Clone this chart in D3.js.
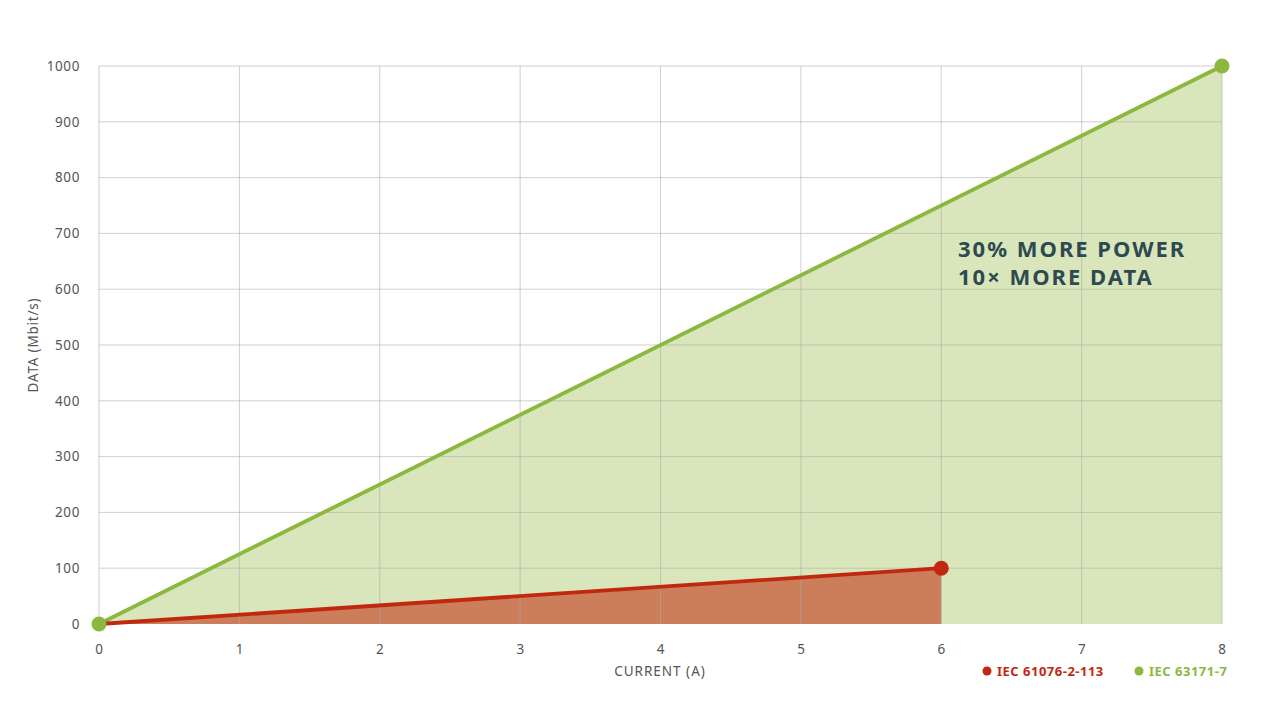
<!DOCTYPE html>
<html><head><meta charset="utf-8">
<script src="https://cdn.jsdelivr.net/npm/d3@7"></script>
<style>body{margin:0;background:#fff;}svg{display:block;font-family:"Noto Sans","Open Sans",sans-serif;}</style>
</head><body><svg id="c" width="1280" height="722"></svg>
<script>
const xTicks = [0,1,2,3,4,5,6,7,8];
const yTicks = [0,100,200,300,400,500,600,700,800,900,1000];
const greenSeries = {name:"IEC 63171-7", current:[0,8], data:[0,1000]};
const redSeries = {name:"IEC 61076-2-113", current:[0,6], data:[0,100]};
const annotationLines = ["30% MORE POWER","10× MORE DATA"];
const xTitle = "CURRENT (A)";
const yTitle = "DATA (Mbit/s)";

const svg = d3.select("#c");
const m = {l:99, r:1222, t:66, b:624};
const x = d3.scaleLinear().domain([0,8]).range([m.l,m.r]);
const y = d3.scaleLinear().domain([0,1000]).range([m.b,m.t]);

const GREEN="#8cb83f", GREENFILL="#d9e6bb", RED="#c0290f", REDFILL="#cc7e5a";
const FONT="'Noto Sans',sans-serif";

function pts(s){return s.current.map((c,i)=>[c,s.data[i]]);}
const area = d3.area().x(d=>x(d[0])).y0(y(0)).y1(d=>y(d[1]));
const line = d3.line().x(d=>x(d[0])).y(d=>y(d[1]));

svg.append("path").datum(pts(greenSeries)).attr("d",area).attr("fill",GREENFILL);
svg.append("path").datum(pts(redSeries)).attr("d",area).attr("fill",REDFILL);

const g = svg.append("g");
g.selectAll("line.h").data(yTicks.filter(d=>d>0)).join("line")
 .attr("x1",x(0)).attr("x2",x(8)).attr("y1",d=>y(d)).attr("y2",d=>y(d))
 .attr("stroke","#a9a9a9").attr("stroke-opacity",0.55).attr("stroke-width",1);
g.selectAll("line.v").data(xTicks).join("line")
 .attr("x1",d=>x(d)).attr("x2",d=>x(d)).attr("y1",y(0)).attr("y2",y(1000))
 .attr("stroke","#a9a9a9").attr("stroke-opacity",0.55).attr("stroke-width",1);

const xa = svg.append("g").attr("transform",`translate(0,${y(0)})`)
 .call(d3.axisBottom(x).tickValues(xTicks).tickSize(0).tickPadding(20).tickFormat(d3.format("d")));
const ya = svg.append("g").attr("transform",`translate(${x(0)},0)`)
 .call(d3.axisLeft(y).tickValues(yTicks).tickSize(0).tickPadding(19).tickFormat(d3.format("d")));
[xa,ya].forEach(a=>{a.select(".domain").remove();
 a.selectAll("text").attr("fill","#555").style("font-size","13.5px").style("letter-spacing","0.6px").style("font-family",FONT);});

svg.append("path").datum(pts(greenSeries)).attr("d",line).attr("fill","none").attr("stroke",GREEN).attr("stroke-width",3.8);
svg.append("path").datum(pts(redSeries)).attr("d",line).attr("fill","none").attr("stroke",RED).attr("stroke-width",3.8);

svg.append("circle").attr("cx",x(redSeries.current[1])).attr("cy",y(redSeries.data[1])).attr("r",7.5).attr("fill",RED);
svg.append("circle").attr("cx",x(greenSeries.current[1])).attr("cy",y(greenSeries.data[1])).attr("r",7.5).attr("fill",GREEN);
svg.append("circle").attr("cx",x(0)).attr("cy",y(0)).attr("r",7.5).attr("fill",GREEN);

svg.append("g").selectAll("text").data(annotationLines).join("text")
 .attr("x",958).attr("y",(d,i)=>257+i*28)
 .attr("fill","#2e4a50").style("font-size","22px").style("font-weight","bold").style("letter-spacing","2px").style("font-family",FONT)
 .text(d=>d);

svg.append("text").attr("x",660).attr("y",676).attr("text-anchor","middle")
 .attr("fill","#555").style("font-size","13.5px").style("letter-spacing","1px").style("font-family",FONT).text(xTitle);
svg.append("text").attr("transform",`translate(38,${(y(0)+y(1000))/2}) rotate(-90)`).attr("text-anchor","middle")
 .attr("fill","#555").style("font-size","13.5px").style("letter-spacing","0.8px").style("font-family",FONT).text(yTitle);

const legend = [{s:redSeries,c:RED,x:987},{s:greenSeries,c:GREEN,x:1139}];
legend.forEach(l=>{
 svg.append("circle").attr("cx",l.x).attr("cy",671).attr("r",4.5).attr("fill",l.c);
 svg.append("text").attr("x",l.x+10).attr("y",676).attr("fill",l.c)
  .style("font-size","13px").style("font-weight","bold").style("letter-spacing","0.5px").style("font-family",FONT).text(l.s.name);
});
</script></body></html>
